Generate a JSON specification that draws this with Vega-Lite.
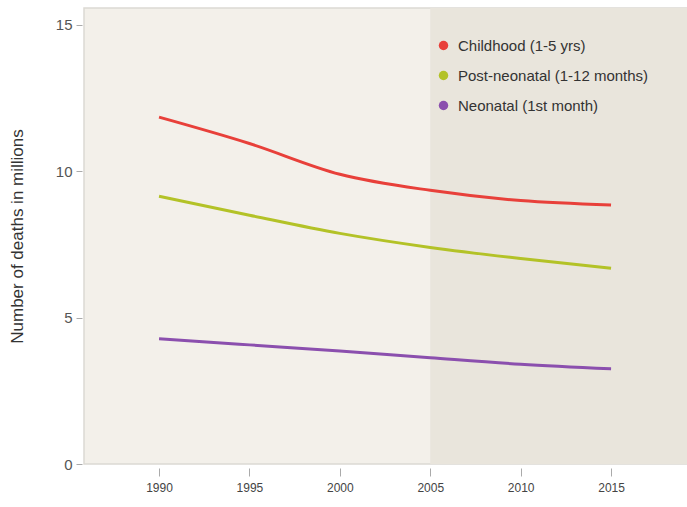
{
  "$schema": "https://vega.github.io/schema/vega-lite/v6.json",
  "width": 603,
  "height": 456,
  "autosize": {"type": "none"},
  "padding": {"left": 84, "top": 8, "right": 0, "bottom": 43},
  "background": "white",
  "config": {
    "view": {"fill": "#f3f0ea", "stroke": "#dcd9d3", "strokeWidth": 1.5},
    "font": "Liberation Sans"
  },
  "datasets": {
    "deaths": [
      {"year": 1990, "group": "Childhood (1-5 yrs)", "value": 11.85},
      {"year": 1995, "group": "Childhood (1-5 yrs)", "value": 10.95},
      {"year": 2000, "group": "Childhood (1-5 yrs)", "value": 9.9},
      {"year": 2005, "group": "Childhood (1-5 yrs)", "value": 9.35},
      {"year": 2010, "group": "Childhood (1-5 yrs)", "value": 9.0},
      {"year": 2015, "group": "Childhood (1-5 yrs)", "value": 8.85},
      {"year": 1990, "group": "Post-neonatal (1-12 months)", "value": 9.15},
      {"year": 1995, "group": "Post-neonatal (1-12 months)", "value": 8.5},
      {"year": 2000, "group": "Post-neonatal (1-12 months)", "value": 7.88},
      {"year": 2005, "group": "Post-neonatal (1-12 months)", "value": 7.4},
      {"year": 2010, "group": "Post-neonatal (1-12 months)", "value": 7.02},
      {"year": 2015, "group": "Post-neonatal (1-12 months)", "value": 6.69},
      {"year": 1990, "group": "Neonatal (1st month)", "value": 4.28},
      {"year": 1995, "group": "Neonatal (1st month)", "value": 4.07},
      {"year": 2000, "group": "Neonatal (1st month)", "value": 3.86},
      {"year": 2005, "group": "Neonatal (1st month)", "value": 3.63},
      {"year": 2010, "group": "Neonatal (1st month)", "value": 3.41},
      {"year": 2015, "group": "Neonatal (1st month)", "value": 3.25}
    ],
    "shade": [
      {"start": 2005, "end": 2019.2, "low": 0, "high": 15.58}
    ]
  },
  "layer": [
    {
      "data": {"name": "shade"},
      "mark": {"type": "rect", "fill": "#e9e5dc"},
      "encoding": {
        "x": {"field": "start", "type": "quantitative", "scale": {"domain": [1985.85, 2019.2], "nice": false, "zero": false}},
        "x2": {"field": "end"},
        "y": {"field": "low", "type": "quantitative", "scale": {"domain": [0, 15.58], "nice": false}},
        "y2": {"field": "high"}
      }
    },
    {
      "data": {"name": "deaths"},
      "mark": {"type": "line", "strokeWidth": 3, "interpolate": "monotone"},
      "encoding": {
        "x": {
          "field": "year", "type": "quantitative",
          "scale": {"domain": [1985.85, 2019.2], "nice": false, "zero": false},
          "axis": {
            "values": [1990, 1995, 2000, 2005, 2010, 2015],
            "format": "d", "title": null, "domain": false, "grid": false,
            "tickColor": "#aaaaaa", "tickSize": 8, "offset": 4,
            "labelColor": "#444444", "labelFontSize": 12, "labelPadding": 6
          }
        },
        "y": {
          "field": "value", "type": "quantitative",
          "scale": {"domain": [0, 15.58], "nice": false},
          "axis": {
            "values": [0, 5, 10, 15],
            "title": "Number of deaths in millions",
            "titleFontSize": 17, "titleFontWeight": "normal", "titleColor": "#333333",
            "titlePadding": 29,
            "domain": false, "grid": false,
            "tickColor": "#aaaaaa", "tickSize": 6, "offset": 2,
            "labelColor": "#555555", "labelFontSize": 15, "labelPadding": 4
          }
        },
        "color": {
          "field": "group", "type": "nominal",
          "scale": {
            "domain": ["Childhood (1-5 yrs)", "Post-neonatal (1-12 months)", "Neonatal (1st month)"],
            "range": ["#e8403a", "#b3c227", "#8b4fae"]
          },
          "legend": {
            "title": null, "orient": "none", "legendX": 352, "legendY": 30,
            "symbolType": "circle", "symbolSize": 90, "symbolStrokeWidth": 0,
            "labelFontSize": 15, "labelColor": "#333333", "rowPadding": 14,
            "labelOffset": 7, "labelLimit": 400,
            "encode": {"symbols": {"update": {"fill": {"scale": "color", "field": "value"}, "fillOpacity": {"value": 1}}}}
          }
        }
      }
    }
  ]
}
